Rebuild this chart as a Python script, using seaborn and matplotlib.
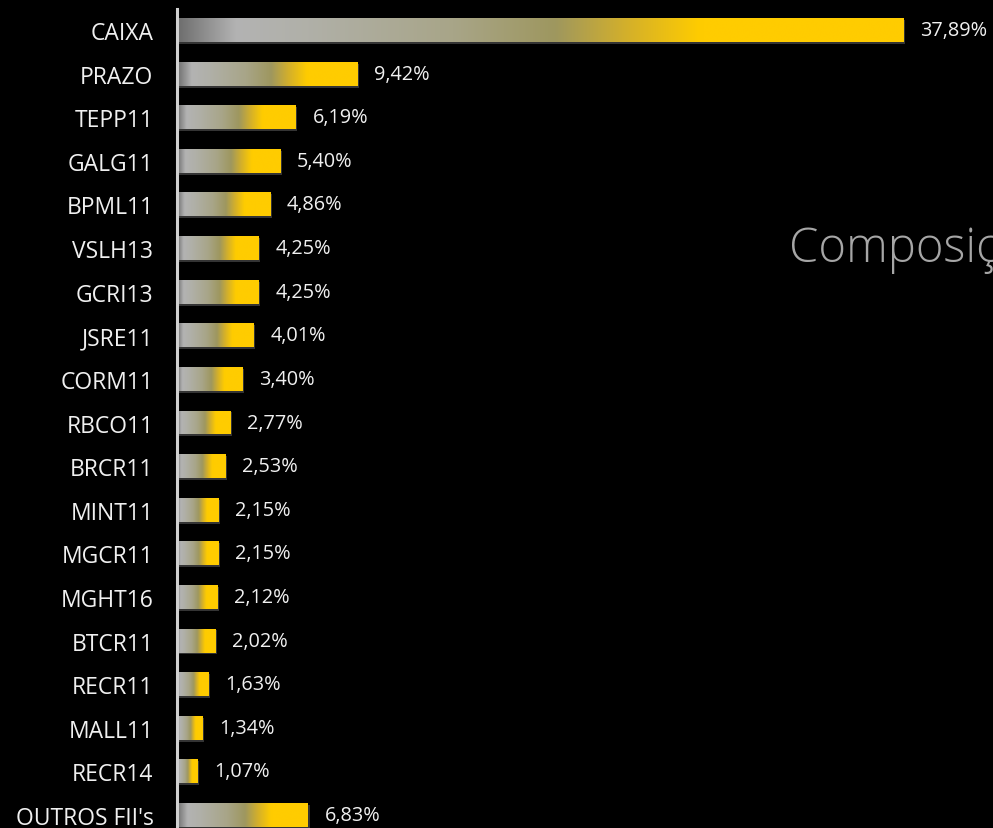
import numpy as np
import pandas as pd
import matplotlib
matplotlib.use("Agg")
import matplotlib.pyplot as plt
from matplotlib.colors import LinearSegmentedColormap
from matplotlib.patches import Rectangle
import seaborn as sns

categories = ["CAIXA", "PRAZO", "TEPP11", "GALG11", "BPML11", "VSLH13", "GCRI13",
              "JSRE11", "CORM11", "RBCO11", "BRCR11", "MINT11", "MGCR11", "MGHT16",
              "BTCR11", "RECR11", "MALL11", "RECR14", "OUTROS FII's"]
values = [37.89, 9.42, 6.19, 5.40, 4.86, 4.25, 4.25, 4.01, 3.40, 2.77, 2.53,
          2.15, 2.15, 2.12, 2.02, 1.63, 1.34, 1.07, 6.83]
value_labels = ["37,89%", "9,42%", "6,19%", "5,40%", "4,86%", "4,25%", "4,25%",
                "4,01%", "3,40%", "2,77%", "2,53%", "2,15%", "2,15%", "2,12%",
                "2,02%", "1,63%", "1,34%", "1,07%", "6,83%"]

df = pd.DataFrame({"cat": categories, "val": values})

sns.set_theme(style="dark")
plt.rcParams["font.family"] = ["Open Sans", "DejaVu Sans"]

W, H = 993, 829
fig = plt.figure(figsize=(W / 100, H / 100), dpi=100, facecolor="black")
ax = fig.add_axes([177 / W, 0, 1 - 177 / W, (829 - 10) / H])
ax.set_facecolor("black")

sns.barplot(data=df, x="val", y="cat", order=categories, orient="h",
            width=0.55, color="#ffcc00", ax=ax, saturation=1)

cmap = LinearSegmentedColormap.from_list("g", [
    (0.0, "#6e6e6e"), (0.08, "#b3b3b3"), (0.18, "#b0b0a8"), (0.38, "#a8a588"),
    (0.52, "#9e975f"), (0.62, "#d4b02a"), (0.72, "#ffcc00"), (1.0, "#ffcc00")])
grad = np.linspace(0, 1, 256).reshape(1, -1)

for p in list(ax.patches):
    x0, y0 = p.get_x(), p.get_y()
    w, h = p.get_width(), p.get_height()
    sh = Rectangle((x0, y0 + h * 0.08), w + 0.08, h * 1.0, facecolor="#3a3a3a",
                   edgecolor="none", zorder=1, alpha=0.9)
    ax.add_patch(sh)
    p.set_facecolor("none")
    p.set_edgecolor("none")
    im = ax.imshow(grad, cmap=cmap, aspect="auto", extent=(x0, x0 + w, y0 + h, y0),
                   zorder=2, interpolation="bicubic")
    clip = Rectangle((x0, y0), w, h, transform=ax.transData)
    im.set_clip_path(clip)

for i, (v, lab) in enumerate(zip(values, value_labels)):
    ax.annotate(lab, xy=(v, i), xytext=(12, 0), textcoords="offset points",
                va="center", ha="left", color="#f0f0f0", fontsize=14.3)

ax.set_xlim(0, (W - 177) / 19.18)
ax.set_ylim(18 + (829 - 816) / 43.6, -(31 - 10) / 43.6)
ax.set_xlabel("")
ax.set_ylabel("")
ax.set_xticks([])
ax.tick_params(axis="y", length=0, pad=17, colors="#f0f0f0", labelsize=16.5)
for s in ["top", "right", "bottom"]:
    ax.spines[s].set_visible(False)
ax.spines["left"].set_visible(True)
ax.spines["left"].set_color("#d0d0d0")
ax.spines["left"].set_linewidth(2.2)
ax.grid(False)

fig.text(789 / W, 1 - 250 / H, "Composição", color="#a6a6a6", fontsize=34,
         fontweight="light", va="center", ha="left")

fig.savefig("out.png", dpi=100, facecolor="black")
